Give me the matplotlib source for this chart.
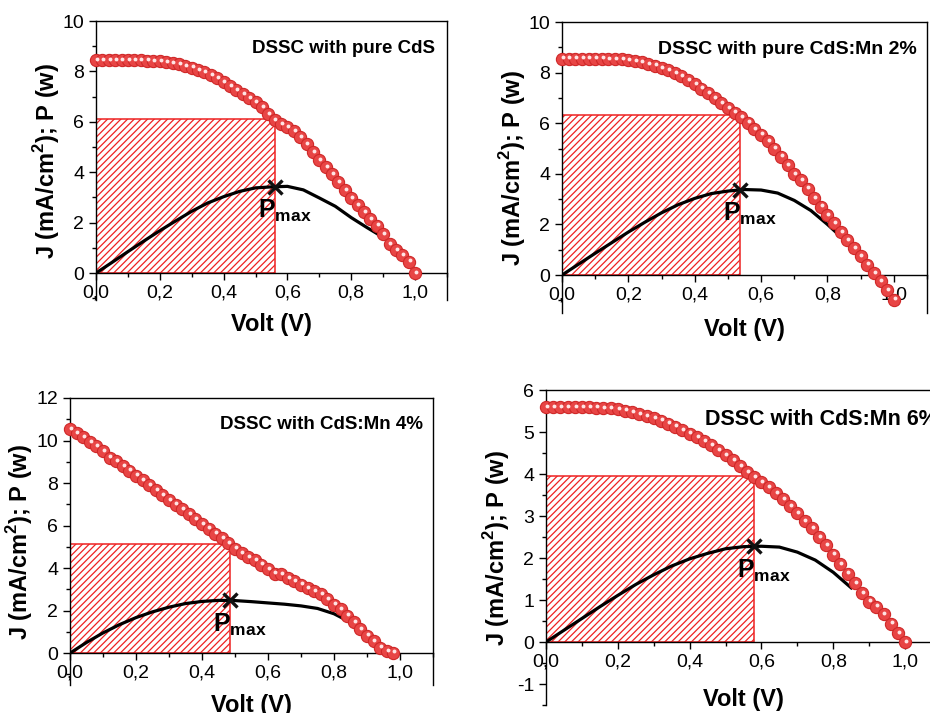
import matplotlib
matplotlib.use('Agg')
import matplotlib.pyplot as plt
import matplotlib.transforms as mtransforms
from matplotlib.patches import Rectangle
from matplotlib.ticker import MultipleLocator, FuncFormatter

plt.rcParams['font.family'] = 'Liberation Sans'
plt.rcParams['mathtext.fontset'] = 'custom'
plt.rcParams['mathtext.rm'] = 'Liberation Sans'
plt.rcParams['mathtext.bf'] = 'Liberation Sans:bold'
plt.rcParams['hatch.linewidth'] = 0.9

# tension (V) for the J-V points
volt = [0.00, 0.02, 0.04, 0.06, 0.08, 0.10, 0.12, 0.14, 0.16, 0.18,
        0.20, 0.22, 0.24, 0.26, 0.28, 0.30, 0.32, 0.34, 0.36, 0.38,
        0.40, 0.42, 0.44, 0.46, 0.48, 0.50, 0.52, 0.54, 0.56, 0.58,
        0.60, 0.62, 0.64, 0.66, 0.68, 0.70, 0.72, 0.74, 0.76, 0.78,
        0.80, 0.82, 0.84, 0.86, 0.88, 0.90, 0.92, 0.94, 0.96, 0.98, 1.00]

# densite de courant J (mA/cm2)
j_pure = [8.45, 8.45, 8.45, 8.45, 8.45, 8.45, 8.44, 8.44, 8.43, 8.42,
          8.40, 8.37, 8.33, 8.28, 8.22, 8.15, 8.06, 7.96, 7.85, 7.72,
          7.58, 7.43, 7.27, 7.10, 6.93, 6.78, 6.58, 6.32, 6.08, 5.92,
          5.80, 5.62, 5.40, 5.12, 4.80, 4.48, 4.20, 3.92, 3.60, 3.28,
          2.98, 2.70, 2.42, 2.15, 1.88, 1.55, 1.15, 0.90, 0.72, 0.45, 0.00]
j_mn2 = [8.55, 8.55, 8.55, 8.55, 8.55, 8.55, 8.55, 8.54, 8.53, 8.52,
         8.50, 8.46, 8.41, 8.35, 8.28, 8.19, 8.09, 7.99, 7.86, 7.70,
         7.54, 7.37, 7.18, 7.00, 6.80, 6.60, 6.42, 6.25, 6.02, 5.78,
         5.55, 5.30, 5.00, 4.68, 4.35, 4.00, 3.75, 3.42, 3.05, 2.70,
         2.38, 2.05, 1.70, 1.39, 1.07, 0.74, 0.41, 0.08, -0.25, -0.60, -0.97]
j_mn4 = [10.55, 10.35, 10.15, 9.92, 9.72, 9.50, 9.20, 9.02, 8.80, 8.58,
         8.35, 8.12, 7.90, 7.66, 7.44, 7.20, 6.98, 6.76, 6.54, 6.30,
         6.08, 5.86, 5.62, 5.40, 5.16, 4.92, 4.72, 4.52, 4.36, 4.16,
         3.95, 3.74, 3.72, 3.54, 3.38, 3.22, 3.06, 2.90, 2.76, 2.54,
         2.28, 2.06, 1.76, 1.45, 1.14, 0.82, 0.56, 0.26, 0.10, 0.02]
j_mn6 = [5.60, 5.60, 5.60, 5.60, 5.60, 5.59, 5.59, 5.58, 5.57, 5.56,
         5.54, 5.51, 5.47, 5.43, 5.38, 5.33, 5.27, 5.20, 5.13, 5.05,
         4.96, 4.88, 4.78, 4.68, 4.57, 4.45, 4.33, 4.19, 4.05, 3.92,
         3.80, 3.69, 3.55, 3.40, 3.24, 3.06, 2.88, 2.71, 2.50, 2.30,
         2.08, 1.86, 1.63, 1.40, 1.16, 0.96, 0.84, 0.66, 0.44, 0.22, 0.00]

# puissance P (courbe noire)
volt_p = [0.00, 0.05, 0.10, 0.15, 0.20, 0.25, 0.30, 0.35, 0.40,
          0.45, 0.50, 0.55, 0.60, 0.65, 0.70, 0.75, 0.80, 0.85, 0.90]
p_pure = [0, 0.42, 0.85, 1.27, 1.68, 2.07, 2.45, 2.78, 3.03,
          3.24, 3.38, 3.42, 3.44, 3.30, 2.98, 2.65, 2.20, 1.80, 1.42]
p_mn2 = [0, 0.43, 0.86, 1.28, 1.70, 2.09, 2.46, 2.78, 3.03,
         3.22, 3.32, 3.38, 3.36, 3.24, 2.95, 2.55, 2.00, 1.40]
p_mn4 = [0, 0.50, 0.95, 1.34, 1.67, 1.94, 2.16, 2.33, 2.43,
         2.48, 2.47, 2.42, 2.36, 2.30, 2.22, 2.10, 1.85, 1.45]
p_mn6 = [0, 0.28, 0.56, 0.84, 1.11, 1.37, 1.60, 1.81, 1.98,
         2.11, 2.22, 2.27, 2.28, 2.26, 2.14, 1.95, 1.66, 1.29]

# point de puissance max : Vm, Jm, Pmax
v_max = [0.56, 0.535, 0.485, 0.578]
j_max = [6.1, 6.33, 5.15, 3.96]
p_max = [3.42, 3.38, 2.48, 2.28]

titles = ['DSSC with pure CdS', 'DSSC with pure CdS:Mn 2%',
          'DSSC with CdS:Mn 4%', 'DSSC with CdS:Mn 6%']
j_all = [j_pure, j_mn2, j_mn4, j_mn6]
p_all = [p_pure, p_mn2, p_mn4, p_mn6]

# mise en page (pixels -> fractions)
boxes = [[0.1032, 0.5792, 0.3774, 0.3913],
         [0.6043, 0.5610, 0.3925, 0.4081],
         [0.0753, 0.0393, 0.3903, 0.4025],
         [0.5871, 0.0112, 0.4247, 0.4418]]
ylims = [(-1.07, 10), (-1.5, 10), (-1.5, 12), (-1.5, 6)]
ymaj = [2, 2, 2, 1]
ymin = [1, 1, 1, 0.5]
title_pos = [(0.966, 0.900, 'right'), (0.973, 0.905, 'right'),
             (0.972, 0.908, 'right'), (0.403, 0.906, 'left')]
title_size = [13.5, 14, 13.5, 15.5]
xlab_pos = [(0.50, -0.047), (0.50, -0.017), (0.50, -0.030), (0.499, 0.054)]
ylab_pos = [(-0.097, 0.5), (-0.093, 0.5), (-0.096, 0.5), (-0.086, 0.5)]

fig = plt.figure(figsize=(9.3, 7.13), dpi=100)

for k in range(4):
    ax = fig.add_axes(boxes[k])
    n = len(j_all[k])
    m = len(p_all[k])
    ax.add_patch(Rectangle((0, 0), v_max[k], j_max[k], facecolor='none',
                           edgecolor='#ee2222', hatch='/////', lw=1.1, zorder=1))
    ax.plot(volt_p[:m], p_all[k], color='black', lw=2.3, zorder=2)
    ax.plot(volt[:n], j_all[k], 'o', ms=8.8, mfc='#e84545', mec='#cf2828',
            mew=0.8, zorder=3, clip_on=False)
    hl = mtransforms.offset_copy(ax.transData, fig=fig, x=0.6, y=0.9, units='points')
    ax.plot(volt[:n], j_all[k], 'o', ms=2.8, mfc='#ffe4e4', mec='none',
            zorder=4, clip_on=False, transform=hl)
    ax.plot(v_max[k], p_max[k], 'x', ms=9.5, mew=2.4, color='#111111', zorder=5)
    ax.annotate(r'$\mathbf{P}_{\mathbf{max}}$', (v_max[k], p_max[k]),
                xytext=(-12, -8), textcoords='offset points',
                ha='left', va='top', fontsize=18, zorder=6)

    tx, ty, tha = title_pos[k]
    ax.text(tx, ty, titles[k], transform=ax.transAxes, ha=tha, va='center',
            fontsize=title_size[k], fontweight='bold')

    ax.set_xlim(0, 1.1)
    ax.set_ylim(*ylims[k])
    ax.spines['bottom'].set_position(('data', 0))
    for s in ax.spines.values():
        s.set_linewidth(1.0)
    ax.xaxis.set_major_locator(MultipleLocator(0.2))
    ax.xaxis.set_minor_locator(MultipleLocator(0.1))
    ax.yaxis.set_major_locator(MultipleLocator(ymaj[k]))
    ax.yaxis.set_minor_locator(MultipleLocator(ymin[k]))
    ax.xaxis.set_major_formatter(FuncFormatter(lambda v, pos: f'{v:.1f}'.replace('.', ',')))
    ax.yaxis.set_major_formatter(FuncFormatter(lambda v, pos: f'{v:g}'))
    ax.tick_params(which='major', direction='out', length=5, width=1, labelsize=14)
    ax.tick_params(which='minor', direction='out', length=3, width=1)

    ax.set_xlabel('Volt (V)', fontsize=17, fontweight='bold')
    ax.set_ylabel(r'J (mA/cm$^{\mathbf{2}}$); P (w)', fontsize=17, fontweight='bold')
    ax.xaxis.set_label_coords(*xlab_pos[k])
    ax.yaxis.set_label_coords(*ylab_pos[k])

fig.savefig('out.png', dpi=100)
